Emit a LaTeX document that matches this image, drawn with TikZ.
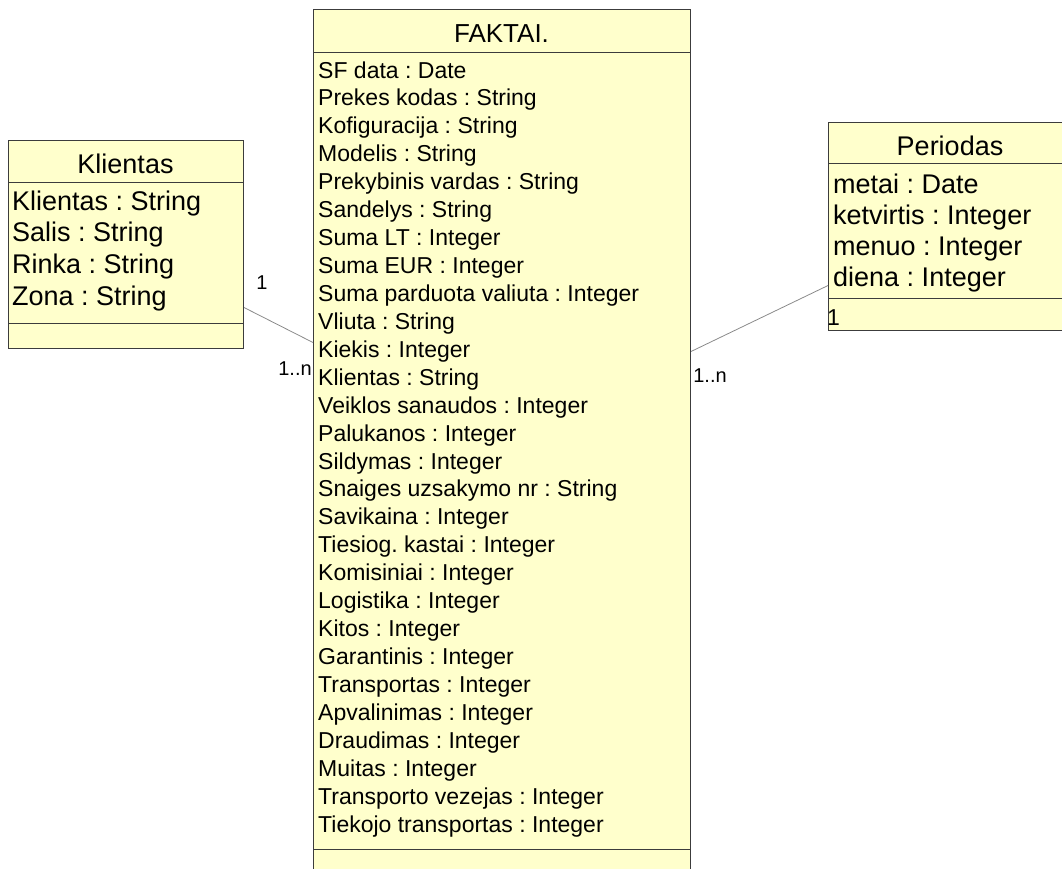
\documentclass[tikz,border=0pt]{standalone}
\usepackage{fontspec}
\setmainfont{Liberation Sans}
\usetikzlibrary{calc}
\frenchspacing
\definecolor{umlfill}{HTML}{FFFFCC}
\definecolor{umlline}{HTML}{3C3C3C}
\definecolor{assoc}{HTML}{8A8A8A}
\tikzset{
  classbox/.style={draw=umlline, fill=umlfill, line width=1pt, inner sep=0pt, anchor=north west},
  sep/.style={draw=umlline, line width=1pt},
  title/.style={anchor=base, inner sep=0pt, font=\fontsize{27}{30}\selectfont},
  bigtitle/.style={anchor=base, inner sep=0pt, font=\fontsize{26}{30}\selectfont},
  attr/.style={anchor=base west, inner sep=0pt, font=\fontsize{23}{26}\selectfont},
  bigattr/.style={anchor=base west, inner sep=0pt, font=\fontsize{27}{30}\selectfont},
  mult/.style={anchor=base, inner sep=0pt, font=\fontsize{20}{24}\selectfont},
  assocline/.style={draw=assoc, line width=0.8pt}
}
\begin{document}
\begin{tikzpicture}[x=1pt,y=-1pt]
\useasboundingbox (0,0) rectangle (1062,868);

% fact class
\node[classbox, minimum width=377pt, minimum height=872pt] (faktai) at (313,9) {};
\draw[sep] (313,52) -- (690,52);
\draw[sep] (313,849) -- (690,849);
\node[bigtitle] (ftitle) at (501.5,42) {FAKTAI.};
\foreach \t [count=\i] in {
  SF data : Date,
  Prekes kodas : String,
  Kofiguracija : String,
  Modelis : String,
  Prekybinis vardas : String,
  Sandelys : String,
  Suma LT : Integer,
  Suma EUR : Integer,
  Suma parduota valiuta : Integer,
  Vliuta : String,
  Kiekis : Integer,
  Klientas : String,
  Veiklos sanaudos : Integer,
  Palukanos : Integer,
  Sildymas : Integer,
  Snaiges uzsakymo nr : String,
  Savikaina : Integer,
  Tiesiog. kastai : Integer,
  Komisiniai : Integer,
  Logistika : Integer,
  Kitos : Integer,
  Garantinis : Integer,
  Transportas : Integer,
  Apvalinimas : Integer,
  Draudimas : Integer,
  Muitas : Integer,
  Transporto vezejas : Integer,
  Tiekojo transportas : Integer}
  \node[attr] (f\i) at (318,{78+(\i-1)*27.93}) {\t};

% client dimension
\node[classbox, minimum width=235pt, minimum height=208pt] (klientas) at (8,140) {};
\draw[sep] (8,182) -- (243,182);
\draw[sep] (8,323) -- (243,323);
\node[title] (ktitle) at (125.5,173) {Klientas};
\foreach \t [count=\i] in {Klientas : String, Salis : String, Rinka : String, Zona : String}
  \node[bigattr] (k\i) at (12,{210+(\i-1)*31.7}) {\t};

% period dimension
\node[classbox, minimum width=240pt, minimum height=208pt] (periodas) at (828,122) {};
\draw[sep] (828,163) -- (1068,163);
\draw[sep] (828,298) -- (1068,298);
\node[title] (ptitle) at (950,155) {Periodas};
\foreach \t [count=\i] in {metai : Date, ketvirtis : Integer, menuo : Integer, diena : Integer}
  \node[bigattr] (p\i) at (833,{193+(\i-1)*31.3}) {\t};

% associations
\draw[assocline] ($(klientas.east)+(0,63)$) -- ($(faktai.west)+(0,-103)$);
\draw[assocline] ($(periodas.west)+(0,59)$) -- ($(faktai.east)+(0,-94)$);

% multiplicities
\node[mult] (m1) at (262,289) {1};
\node[mult] (m2) at (295,375) {1..n};
\node[mult] (m3) at (710,382) {1..n};
\node[mult, anchor=base west, font=\fontsize{23}{26}\selectfont] (m4) at (827,325) {1};
\end{tikzpicture}
\end{document}
